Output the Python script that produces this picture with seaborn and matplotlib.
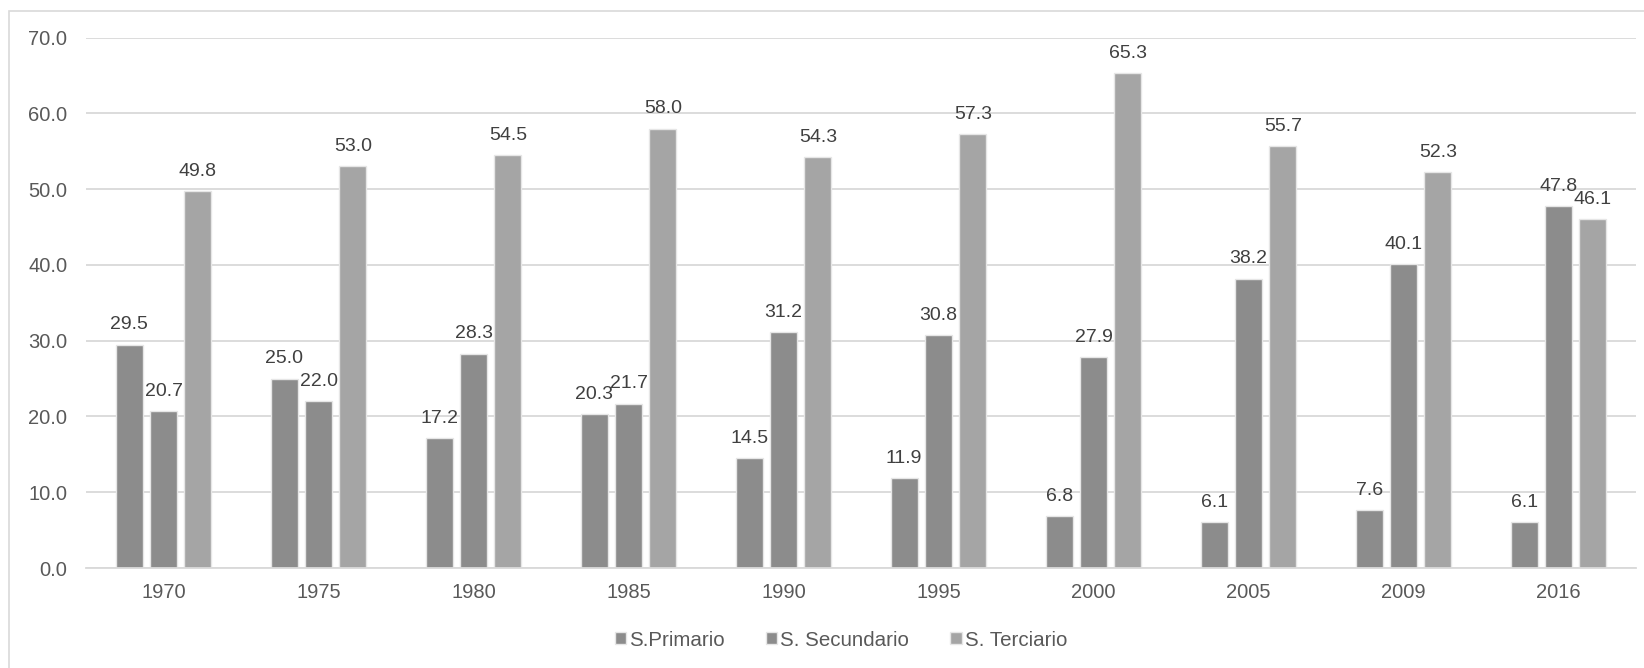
import matplotlib
matplotlib.use("Agg")
import matplotlib.pyplot as plt
import seaborn as sns
import pandas as pd
from matplotlib.patches import Rectangle

years = ["1970", "1975", "1980", "1985", "1990", "1995", "2000", "2005", "2009", "2016"]
primario = [29.5, 25.0, 17.2, 20.3, 14.5, 11.9, 6.8, 6.1, 7.6, 6.1]
secundario = [20.7, 22.0, 28.3, 21.7, 31.2, 30.8, 27.9, 38.2, 40.1, 47.8]
terciario = [49.8, 53.0, 54.5, 58.0, 54.3, 57.3, 65.3, 55.7, 52.3, 46.1]
sectors = ["S.Primario", "S. Secundario", "S. Terciario"]
colors = ["#8c8c8c", "#8c8c8c", "#a5a5a5"]
yticks = [0, 10, 20, 30, 40, 50, 60, 70]

df = pd.DataFrame({
    "Año": years * 3,
    "Sector": [sectors[0]] * 10 + [sectors[1]] * 10 + [sectors[2]] * 10,
    "Valor": primario + secundario + terciario,
})

sns.set_theme(style="white")
plt.rcParams["font.family"] = ["Liberation Sans", "DejaVu Sans"]

fig = plt.figure(figsize=(16.44, 6.68), dpi=100)
ax = fig.add_axes([86 / 1644, 1 - 568 / 668, (1636 - 86) / 1644, (568 - 37.7) / 668])

sns.barplot(data=df, x="Año", y="Valor", hue="Sector", order=years, hue_order=sectors,
            palette=colors, width=0.665, gap=0.22, edgecolor="#e6e6e6", linewidth=1.0,
            saturation=1, ax=ax, legend=True)

for cont in ax.containers:
    ax.bar_label(cont, fmt="%.1f", padding=8, fontsize=14, color="#404040")

ax.set_ylim(0, 70)
ax.set_xlim(-0.5, 9.5)
ax.set_yticks(yticks)
ax.set_yticklabels([f"{v:.1f}" for v in yticks])
ax.yaxis.grid(True, color="#d9d9d9", linewidth=1.3)
ax.set_axisbelow(True)
for s in ["top", "right", "left"]:
    ax.spines[s].set_visible(False)
ax.spines["bottom"].set_color("#d9d9d9")
ax.spines["bottom"].set_linewidth(1.3)
ax.tick_params(axis="both", length=0, labelsize=14.5, labelcolor="#595959")
ax.tick_params(axis="y", pad=13.5)
ax.tick_params(axis="x", pad=11)
ax.set_xlabel("")
ax.set_ylabel("")

handles, labels = ax.get_legend_handles_labels()
ax.legend_.remove()
fig.legend(handles, labels, loc="center", bbox_to_anchor=(841 / 1644, 1 - 640 / 668),
           ncol=3, frameon=False, fontsize=14.8, labelcolor="#595959",
           handlelength=0.55, handleheight=0.55, handletextpad=0.15, columnspacing=2.0)

fig.patches.append(Rectangle((9 / 1644, -0.1), 1.2, 1 - 11 / 668 + 0.1, transform=fig.transFigure,
                             fill=False, edgecolor="#d9d9d9", linewidth=1.2))

fig.savefig("out.png", dpi=100, facecolor="white")
